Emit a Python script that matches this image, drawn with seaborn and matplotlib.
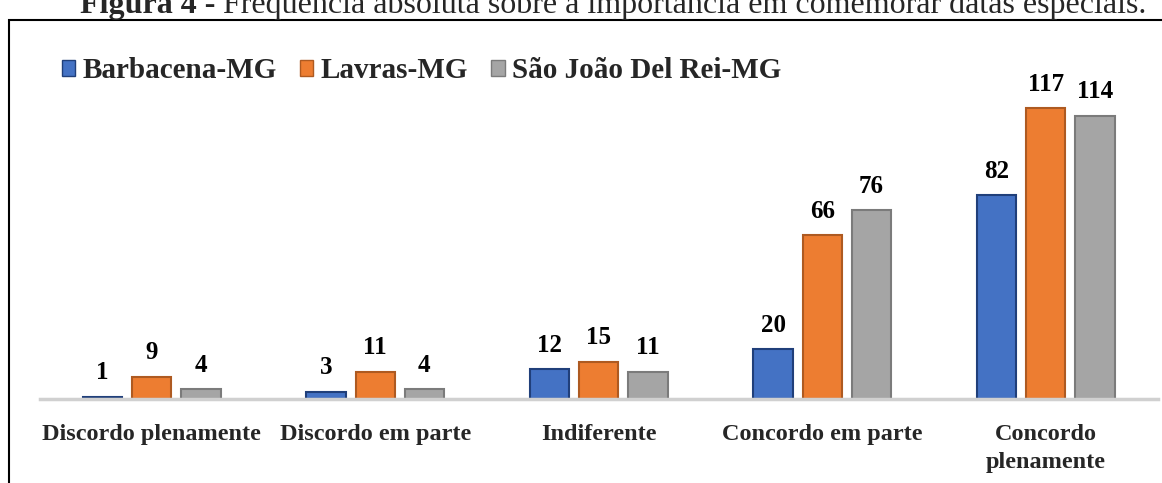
import matplotlib
matplotlib.use('Agg')
import matplotlib.pyplot as plt
import matplotlib.patches as mpatches
import seaborn as sns
import pandas as pd

# dados
categorias = ['Discordo plenamente', 'Discordo em parte', 'Indiferente',
              'Concordo em parte', 'Concordo\nplenamente']
cidades = ['Barbacena-MG', 'Lavras-MG', 'São João Del Rei-MG']
barbacena = [1, 3, 12, 20, 82]
lavras = [9, 11, 15, 66, 117]
sao_joao = [4, 4, 11, 76, 114]

cores = ['#4472C4', '#ED7D31', '#A5A5A5']
bordas = ['#203F7A', '#AE5A21', '#7B7B7B']

rows = []
for cidade, vals in zip(cidades, [barbacena, lavras, sao_joao]):
    for cat, v in zip(categorias, vals):
        rows.append({'categoria': cat, 'cidade': cidade, 'freq': v})
df = pd.DataFrame(rows)

sns.set_style('white')
plt.rcParams['font.family'] = ['Liberation Serif', 'DejaVu Serif']

fig = plt.figure(figsize=(11.62, 4.83), dpi=100)
ax = fig.add_axes([40 / 1162, 1 - 399 / 483, 1117.5 / 1162, 323 / 483])

sns.barplot(data=df, x='categoria', y='freq', hue='cidade', order=categorias,
            hue_order=cidades, palette=cores, saturation=1, width=0.66, gap=0.2,
            linewidth=1.5, ax=ax, legend=False)

for cont, ec in zip(ax.containers, bordas):
    for bar in cont:
        bar.set_edgecolor(ec)
    ax.bar_label(cont, padding=9, fontsize=18, fontweight='bold', color='black')

ax.set_xlim(-0.5, 4.5)
ax.set_ylim(0, 130)
ax.set_xlabel('')
ax.set_ylabel('')
ax.set_yticks([])
for s in ['top', 'right', 'left']:
    ax.spines[s].set_visible(False)
ax.spines['bottom'].set_color('#D0D0D0')
ax.spines['bottom'].set_linewidth(2.5)
ax.tick_params(axis='x', length=0, pad=18)
for lbl in ax.get_xticklabels():
    lbl.set_fontsize(17.5)
    lbl.set_fontweight('bold')
    lbl.set_verticalalignment('top')
    lbl.set_linespacing(1.45)

handles = [mpatches.Patch(facecolor=c, edgecolor=e, linewidth=1) for c, e in zip(cores, bordas)]
fig.legend(handles, cidades, loc='center left', bbox_to_anchor=(36 / 1162, 1 - 71 / 483),
           ncol=3, frameon=False, handlelength=0.45, handleheight=0.45, handletextpad=0.25,
           columnspacing=0.8, prop={'family': 'Liberation Serif', 'weight': 'bold', 'size': 21})

# moldura da figura
fig.patches.append(mpatches.Rectangle((9 / 1162, -0.1), 1.2, 1 - 20 / 483 + 0.1,
                                      transform=fig.transFigure, fill=False,
                                      edgecolor='black', linewidth=1.5))

# titulo (cortado no topo)
y_tit = 1 - 13 / 483
t1 = fig.text(80 / 1162, y_tit, 'Figura 4 - ', fontsize=23, fontweight='bold', va='baseline')
fig.canvas.draw()
bb = t1.get_window_extent()
fig.text(bb.x1 / 1162, y_tit, 'Frequência absoluta sobre a importância em comemorar datas especiais.',
         fontsize=23, va='baseline')

fig.savefig('out.png', dpi=100)
